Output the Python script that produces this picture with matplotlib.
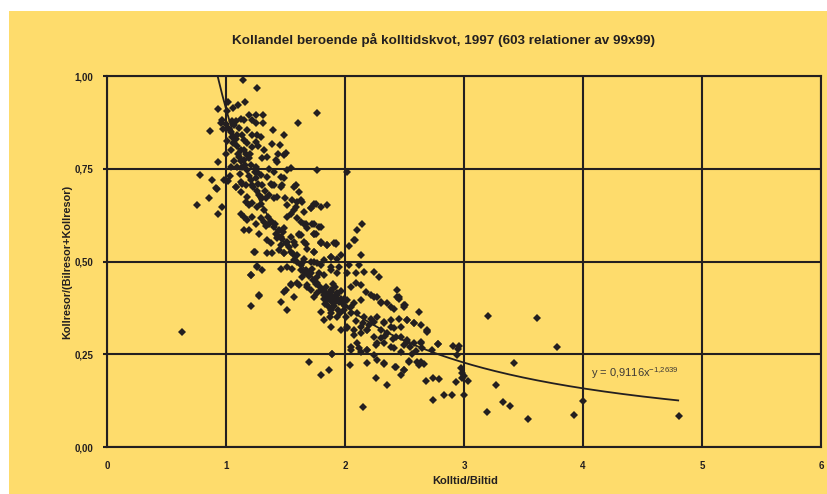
import matplotlib
matplotlib.use("Agg")
import matplotlib.pyplot as plt
import numpy as np
from matplotlib.patches import Rectangle

# ─── Data ────────────────────────────────────────────────────────────────────
TITLE  = "Kollandel beroende på kolltidskvot, 1997 (603 relationer av 99x99)"
XLABEL = "Kolltid/Biltid"
YLABEL = "Kollresor/(Bilresor+Kollresor)"
X_TICKS = [0, 1, 2, 3, 4, 5, 6]
Y_TICKS = [0.0, 0.25, 0.5, 0.75, 1.0]
Y_TICKLABELS = ["0,00", "0,25", "0,50", "0,75", "1,00"]

# power trendline shown on the chart: y = 0,9116x^-1,2639
FIT_A, FIT_B = 0.9116, -1.2639
FIT_XMIN, FIT_XMAX = 0.93, 4.8

upper_pts = [
    (1.14, 0.989), (1.257, 0.967), (0.935, 0.911), (1.061, 0.914), (1.103, 0.922),
    (1.157, 0.930), (1.762, 0.899), (1.605, 0.872), (0.862, 0.852), (0.969, 0.881),
    (0.957, 0.874), (0.977, 0.858), (1.011, 0.906), (1.123, 0.883), (1.151, 0.881),
    (1.193, 0.895), (1.249, 0.895), (1.314, 0.895), (1.314, 0.872), (1.249, 0.872),
    (1.221, 0.881), (1.398, 0.854), (1.49, 0.84), (1.453, 0.814), (1.389, 0.818),
    (1.067, 0.867), (1.053, 0.836), (1.081, 0.831), (1.137, 0.840), (1.179, 0.854),
    (1.221, 0.840), (1.263, 0.840), (1.291, 0.836), (1.249, 0.822), (1.221, 0.809),
    (1.151, 0.827), (1.123, 0.800), (1.109, 0.782), (1.151, 0.773), (1.193, 0.778),
    (1.319, 0.800), (1.347, 0.782), (1.305, 0.778), (1.417, 0.773), (1.431, 0.768),
    (1.487, 0.786), (1.501, 0.793), (1.011, 0.824), (0.997, 0.791), (0.932, 0.768),
    (1.039, 0.755), (1.095, 0.755), (1.137, 0.755), (1.179, 0.746), (1.249, 0.755),
    (1.263, 0.742), (1.291, 0.733), (1.341, 0.728), (1.375, 0.710), (1.459, 0.728),
    (1.543, 0.753), (1.487, 0.724), (1.515, 0.746), (1.768, 0.746), (2.02, 0.742),
    (0.885, 0.721), (0.781, 0.734), (0.982, 0.721), (0.915, 0.697), (1.081, 0.701),
    (1.123, 0.715), (1.165, 0.706), (1.221, 0.706), (1.305, 0.706), (1.389, 0.706),
    (1.459, 0.701), (1.585, 0.706), (0.755, 0.652), (0.932, 0.627), (0.963, 0.646),
    (0.859, 0.672), (0.921, 0.695), (1.02, 0.86), (1.04, 0.85), (1.06, 0.82),
    (1.09, 0.81), (1.10, 0.79), (1.13, 0.77), (1.16, 0.76), (1.19, 0.73),
    (1.21, 0.72), (1.23, 0.70), (1.26, 0.69), (1.28, 0.68), (1.30, 0.67),
    (1.02, 0.93), (1.08, 0.88), (1.18, 0.82), (1.20, 0.79), (1.27, 0.81),
    (1.36, 0.75), (1.40, 0.74), (1.44, 0.79), (1.00, 0.87), (1.045, 0.80),
    (1.07, 0.77), (1.03, 0.73), (1.12, 0.735), (1.25, 0.725), (1.33, 0.69),
    (1.36, 0.68), (1.40, 0.67), (1.571, 0.701), (1.613, 0.688), (1.627, 0.665),
    (1.585, 0.647), (1.655, 0.634), (1.711, 0.643), (1.740, 0.656), (1.796, 0.647),
    (1.852, 0.652), (1.081, 0.701), (1.123, 0.688), (1.137, 0.708), (1.179, 0.674),
    (1.165, 0.661), (1.193, 0.652), (1.221, 0.658), (1.263, 0.647), (1.291, 0.656),
    (1.333, 0.670), (1.403, 0.706), (1.473, 0.706), (1.431, 0.674), (1.493, 0.670),
    (1.515, 0.652), (1.557, 0.665), (1.599, 0.661), (1.641, 0.661), (1.712, 0.643),
    (1.754, 0.654), (1.015, 0.717), (1.05, 0.88), (1.11, 0.86), (1.15, 0.80),
    (1.17, 0.79), (1.21, 0.76), (1.24, 0.74), (1.09, 0.84), (1.27, 0.71),
]

mid_pts = [
    (1.123, 0.629), (1.151, 0.620), (1.179, 0.611), (1.221, 0.620), (1.249, 0.602),
    (1.291, 0.616), (1.319, 0.607), (1.361, 0.602), (1.403, 0.593), (1.445, 0.584),
    (1.487, 0.589), (1.515, 0.620), (1.543, 0.629), (1.571, 0.638), (1.599, 0.616),
    (1.627, 0.607), (1.670, 0.602), (1.684, 0.589), (1.726, 0.602), (1.782, 0.593),
    (1.151, 0.584), (1.193, 0.584), (1.277, 0.575), (1.347, 0.557), (1.375, 0.549),
    (1.431, 0.562), (1.459, 0.566), (1.515, 0.553), (1.543, 0.566), (1.571, 0.553),
    (1.613, 0.575), (1.656, 0.553), (1.684, 0.535), (1.740, 0.526), (1.754, 0.575),
    (1.796, 0.549), (1.852, 0.544), (1.908, 0.549), (1.235, 0.526), (1.347, 0.523),
    (1.389, 0.523), (1.445, 0.531), (1.487, 0.522), (1.543, 0.526), (1.599, 0.517),
    (1.656, 0.508), (1.712, 0.499), (1.768, 0.495), (1.824, 0.504), (1.880, 0.511),
    (1.936, 0.506), (1.263, 0.486), (1.305, 0.477), (1.459, 0.479), (1.515, 0.486),
    (1.557, 0.481), (1.627, 0.477), (1.670, 0.477), (1.712, 0.468), (1.768, 0.459),
    (1.824, 0.463), (1.880, 0.477), (1.936, 0.468), (1.207, 0.463), (1.543, 0.439),
    (1.613, 0.436), (1.684, 0.432), (1.712, 0.423), (1.768, 0.414), (1.824, 0.418),
    (1.880, 0.423), (1.936, 0.414), (1.277, 0.409), (1.501, 0.423), (1.613, 0.571),
    (1.740, 0.575), (1.669, 0.548), (1.796, 0.550), (1.922, 0.549), (2.034, 0.541),
    (2.076, 0.557), (2.132, 0.517), (1.964, 0.517), (1.880, 0.513), (1.740, 0.526),
    (1.740, 0.499), (1.571, 0.504), (1.487, 0.522), (1.459, 0.544), (1.796, 0.490),
    (1.880, 0.486), (1.950, 0.486), (2.034, 0.490), (2.118, 0.490), (2.160, 0.472),
    (2.090, 0.468), (2.020, 0.468), (2.244, 0.472), (2.286, 0.459), (1.698, 0.468),
    (1.642, 0.459), (1.599, 0.441), (1.543, 0.436), (1.684, 0.436), (1.768, 0.441),
    (1.796, 0.423), (1.824, 0.409), (1.880, 0.418), (1.922, 0.409), (1.740, 0.405),
    (1.852, 0.396), (1.908, 0.387), (1.964, 0.400), (2.048, 0.432), (2.090, 0.441),
    (2.132, 0.436), (2.174, 0.418), (2.216, 0.409), (2.272, 0.405), (1.627, 0.571),
    (1.740, 0.602), (1.796, 0.593), (1.655, 0.602), (1.740, 0.575), (1.796, 0.553),
    (1.852, 0.544), (1.922, 0.548), (2.082, 0.557), (2.14, 0.600), (2.10, 0.585),
    (1.24, 0.526), (1.26, 0.488), (1.213, 0.464), (1.32, 0.64), (1.35, 0.62),
    (1.38, 0.61), (1.41, 0.60), (1.44, 0.57), (1.47, 0.56), (1.50, 0.55),
    (1.53, 0.54), (1.56, 0.52), (1.60, 0.50), (1.63, 0.49), (1.66, 0.47),
    (1.70, 0.46), (1.73, 0.45), (1.76, 0.44), (1.79, 0.43), (1.34, 0.595),
    (1.42, 0.575), (1.48, 0.58), (1.58, 0.545), (1.65, 0.50), (1.72, 0.48),
    (1.78, 0.47),
]

lower_pts = [
    (1.85, 0.41), (1.87, 0.40), (1.88, 0.42), (1.90, 0.40), (1.91, 0.38),
    (1.93, 0.41), (1.89, 0.39), (1.86, 0.38), (1.95, 0.39), (1.97, 0.42),
    (1.84, 0.43), (1.92, 0.43), (1.88, 0.37), (1.94, 0.37), (1.99, 0.40),
    (2.00, 0.38), (1.82, 0.40), (1.90, 0.44), (1.96, 0.36), (1.87, 0.35),
    (2.300, 0.391), (2.356, 0.387), (2.412, 0.373), (2.440, 0.423), (2.454, 0.400),
    (2.497, 0.378), (1.796, 0.364), (1.824, 0.342), (1.880, 0.360), (1.936, 0.351),
    (1.992, 0.369), (2.048, 0.378), (2.104, 0.360), (2.160, 0.351), (2.216, 0.346),
    (2.272, 0.351), (2.328, 0.338), (2.384, 0.342), (2.454, 0.346), (2.525, 0.342),
    (2.581, 0.333), (2.623, 0.364), (2.693, 0.315), (1.880, 0.324), (1.964, 0.315),
    (2.020, 0.324), (2.076, 0.315), (2.132, 0.324), (2.188, 0.315), (2.244, 0.297),
    (2.300, 0.315), (2.356, 0.306), (2.412, 0.320), (2.468, 0.297), (2.525, 0.288),
    (2.581, 0.279), (2.637, 0.284), (2.048, 0.270), (2.118, 0.266), (2.188, 0.261),
    (2.258, 0.275), (2.328, 0.279), (2.412, 0.266), (2.497, 0.275), (1.894, 0.250),
    (1.459, 0.391), (1.487, 0.418), (1.571, 0.405), (1.515, 0.369), (2.076, 0.387),
    (2.132, 0.396), (2.244, 0.405), (2.300, 0.387), (2.384, 0.378), (2.440, 0.405),
    (2.496, 0.382), (2.525, 0.342), (2.581, 0.333), (2.637, 0.329), (2.468, 0.324),
    (2.384, 0.324), (2.328, 0.333), (2.244, 0.338), (2.188, 0.315), (2.132, 0.306),
    (2.076, 0.302), (2.020, 0.320), (2.006, 0.351), (2.104, 0.279), (2.188, 0.261),
    (2.272, 0.279), (2.300, 0.293), (2.384, 0.270), (2.426, 0.297), (2.468, 0.257),
    (2.525, 0.284), (2.567, 0.252), (2.637, 0.279), (2.693, 0.311), (2.651, 0.266),
    (2.735, 0.261), (2.782, 0.277), (2.538, 0.230), (2.609, 0.230), (2.665, 0.225),
    (2.426, 0.216), (2.496, 0.207), (2.272, 0.234), (2.328, 0.225), (2.244, 0.248),
    (2.132, 0.257), (2.048, 0.261), (2.505, 0.382), (2.457, 0.405), (2.69, 0.312),
    (1.207, 0.379), (1.274, 0.408), (1.83, 0.385), (1.89, 0.405), (1.94, 0.395),
    (1.98, 0.385), (2.02, 0.395), (2.05, 0.36), (2.09, 0.34), (2.15, 0.335),
    (2.20, 0.33), (2.34, 0.30), (2.40, 0.29), (2.55, 0.27), (2.60, 0.26),
]

tail_pts = [
    (2.042, 0.221), (2.258, 0.186), (2.357, 0.166), (2.155, 0.108), (2.74, 0.127),
    (2.83, 0.141), (2.90, 0.141), (2.996, 0.141), (2.68, 0.178), (2.74, 0.186),
    (2.79, 0.183), (2.188, 0.227), (2.328, 0.227), (2.42, 0.215), (2.496, 0.208),
    (2.468, 0.193), (2.538, 0.232), (2.637, 0.230), (2.622, 0.221), (2.78, 0.278),
    (2.91, 0.272), (2.96, 0.272), (2.95, 0.264), (2.94, 0.248), (2.973, 0.214),
    (2.979, 0.200), (3.0, 0.191), (2.984, 0.185), (2.931, 0.176), (3.03, 0.179),
    (1.698, 0.228), (1.796, 0.193), (1.866, 0.207), (1.888, 0.251),
    (3.203, 0.353), (3.61, 0.348), (3.783, 0.270), (3.42, 0.227), (3.267, 0.167),
    (3.324, 0.122), (3.388, 0.110), (3.194, 0.094), (3.537, 0.075), (3.926, 0.085),
    (4.0, 0.125), (4.804, 0.084),
]

outlier_pts = [
    (0.627, 0.310),
]


# ─── Plot ─────────────────────────────────────────────────────────────────────
BG     = "#FEDC6C"
INK    = "#231F20"
FONT   = "Liberation Sans"

plt.rcParams["font.family"] = FONT
plt.rcParams["mathtext.default"] = "regular"

fig = plt.figure(figsize=(8.28, 4.94), dpi=100)
fig.patch.set_facecolor("white")
fig.patches.append(Rectangle((9 / 828, 0), 1, (494 - 11) / 494,
                             transform=fig.transFigure, facecolor=BG,
                             edgecolor="none", zorder=-5))

ax = fig.add_axes([107 / 828, 47 / 494, 714 / 828, 371 / 494])
ax.set_zorder(2)
ax.set_facecolor(BG)

pts = upper_pts + mid_pts + lower_pts + tail_pts + outlier_pts
xs = np.array([p[0] for p in pts])
ys = np.array([p[1] for p in pts])
ax.plot(xs, ys, linestyle="none", marker="D", markersize=3.8,
        color=INK, markeredgewidth=0, zorder=3)

fit_x = np.linspace(FIT_XMIN, FIT_XMAX, 200)
ax.plot(fit_x, FIT_A * fit_x ** FIT_B, color=INK, linewidth=1.3, zorder=4)

ax.text(4.07, 0.19, "y = 0,9116x$^{-1{,}2639}$", fontsize=8, color="#3d3935",
        zorder=5)

ax.set_xlim(0, 6)
ax.set_ylim(0, 1)
ax.set_xticks(X_TICKS)
ax.set_yticks(Y_TICKS)
ax.set_yticklabels(Y_TICKLABELS)
ax.tick_params(labelsize=7, colors=INK)
ax.tick_params(axis="x", length=0, pad=10)
ax.tick_params(axis="y", length=3, width=1.5, pad=7)
for lab in ax.get_xticklabels() + ax.get_yticklabels():
    lab.set_fontweight("bold")
ax.grid(True, color=INK, linewidth=1.5, zorder=1)
ax.set_axisbelow(True)
for sp in ax.spines.values():
    sp.set_color(INK)
    sp.set_linewidth(1.5)

ax.set_xlabel(XLABEL, fontsize=8, fontweight="bold", color=INK)
ax.xaxis.set_label_coords((465 - 107) / 714, -(481 - 447) / 371)
ax.set_ylabel(YLABEL, fontsize=7.8, fontweight="bold", color=INK)
ax.yaxis.set_label_coords((72 - 107) / 714, 0.5)
ax.xaxis.label.set_va("center")
fig.text(0.536, 1 - 40 / 494, TITLE, ha="center", va="center",
         fontsize=9.7, fontweight="bold", color=INK)

fig.savefig("out.png", dpi=100)
